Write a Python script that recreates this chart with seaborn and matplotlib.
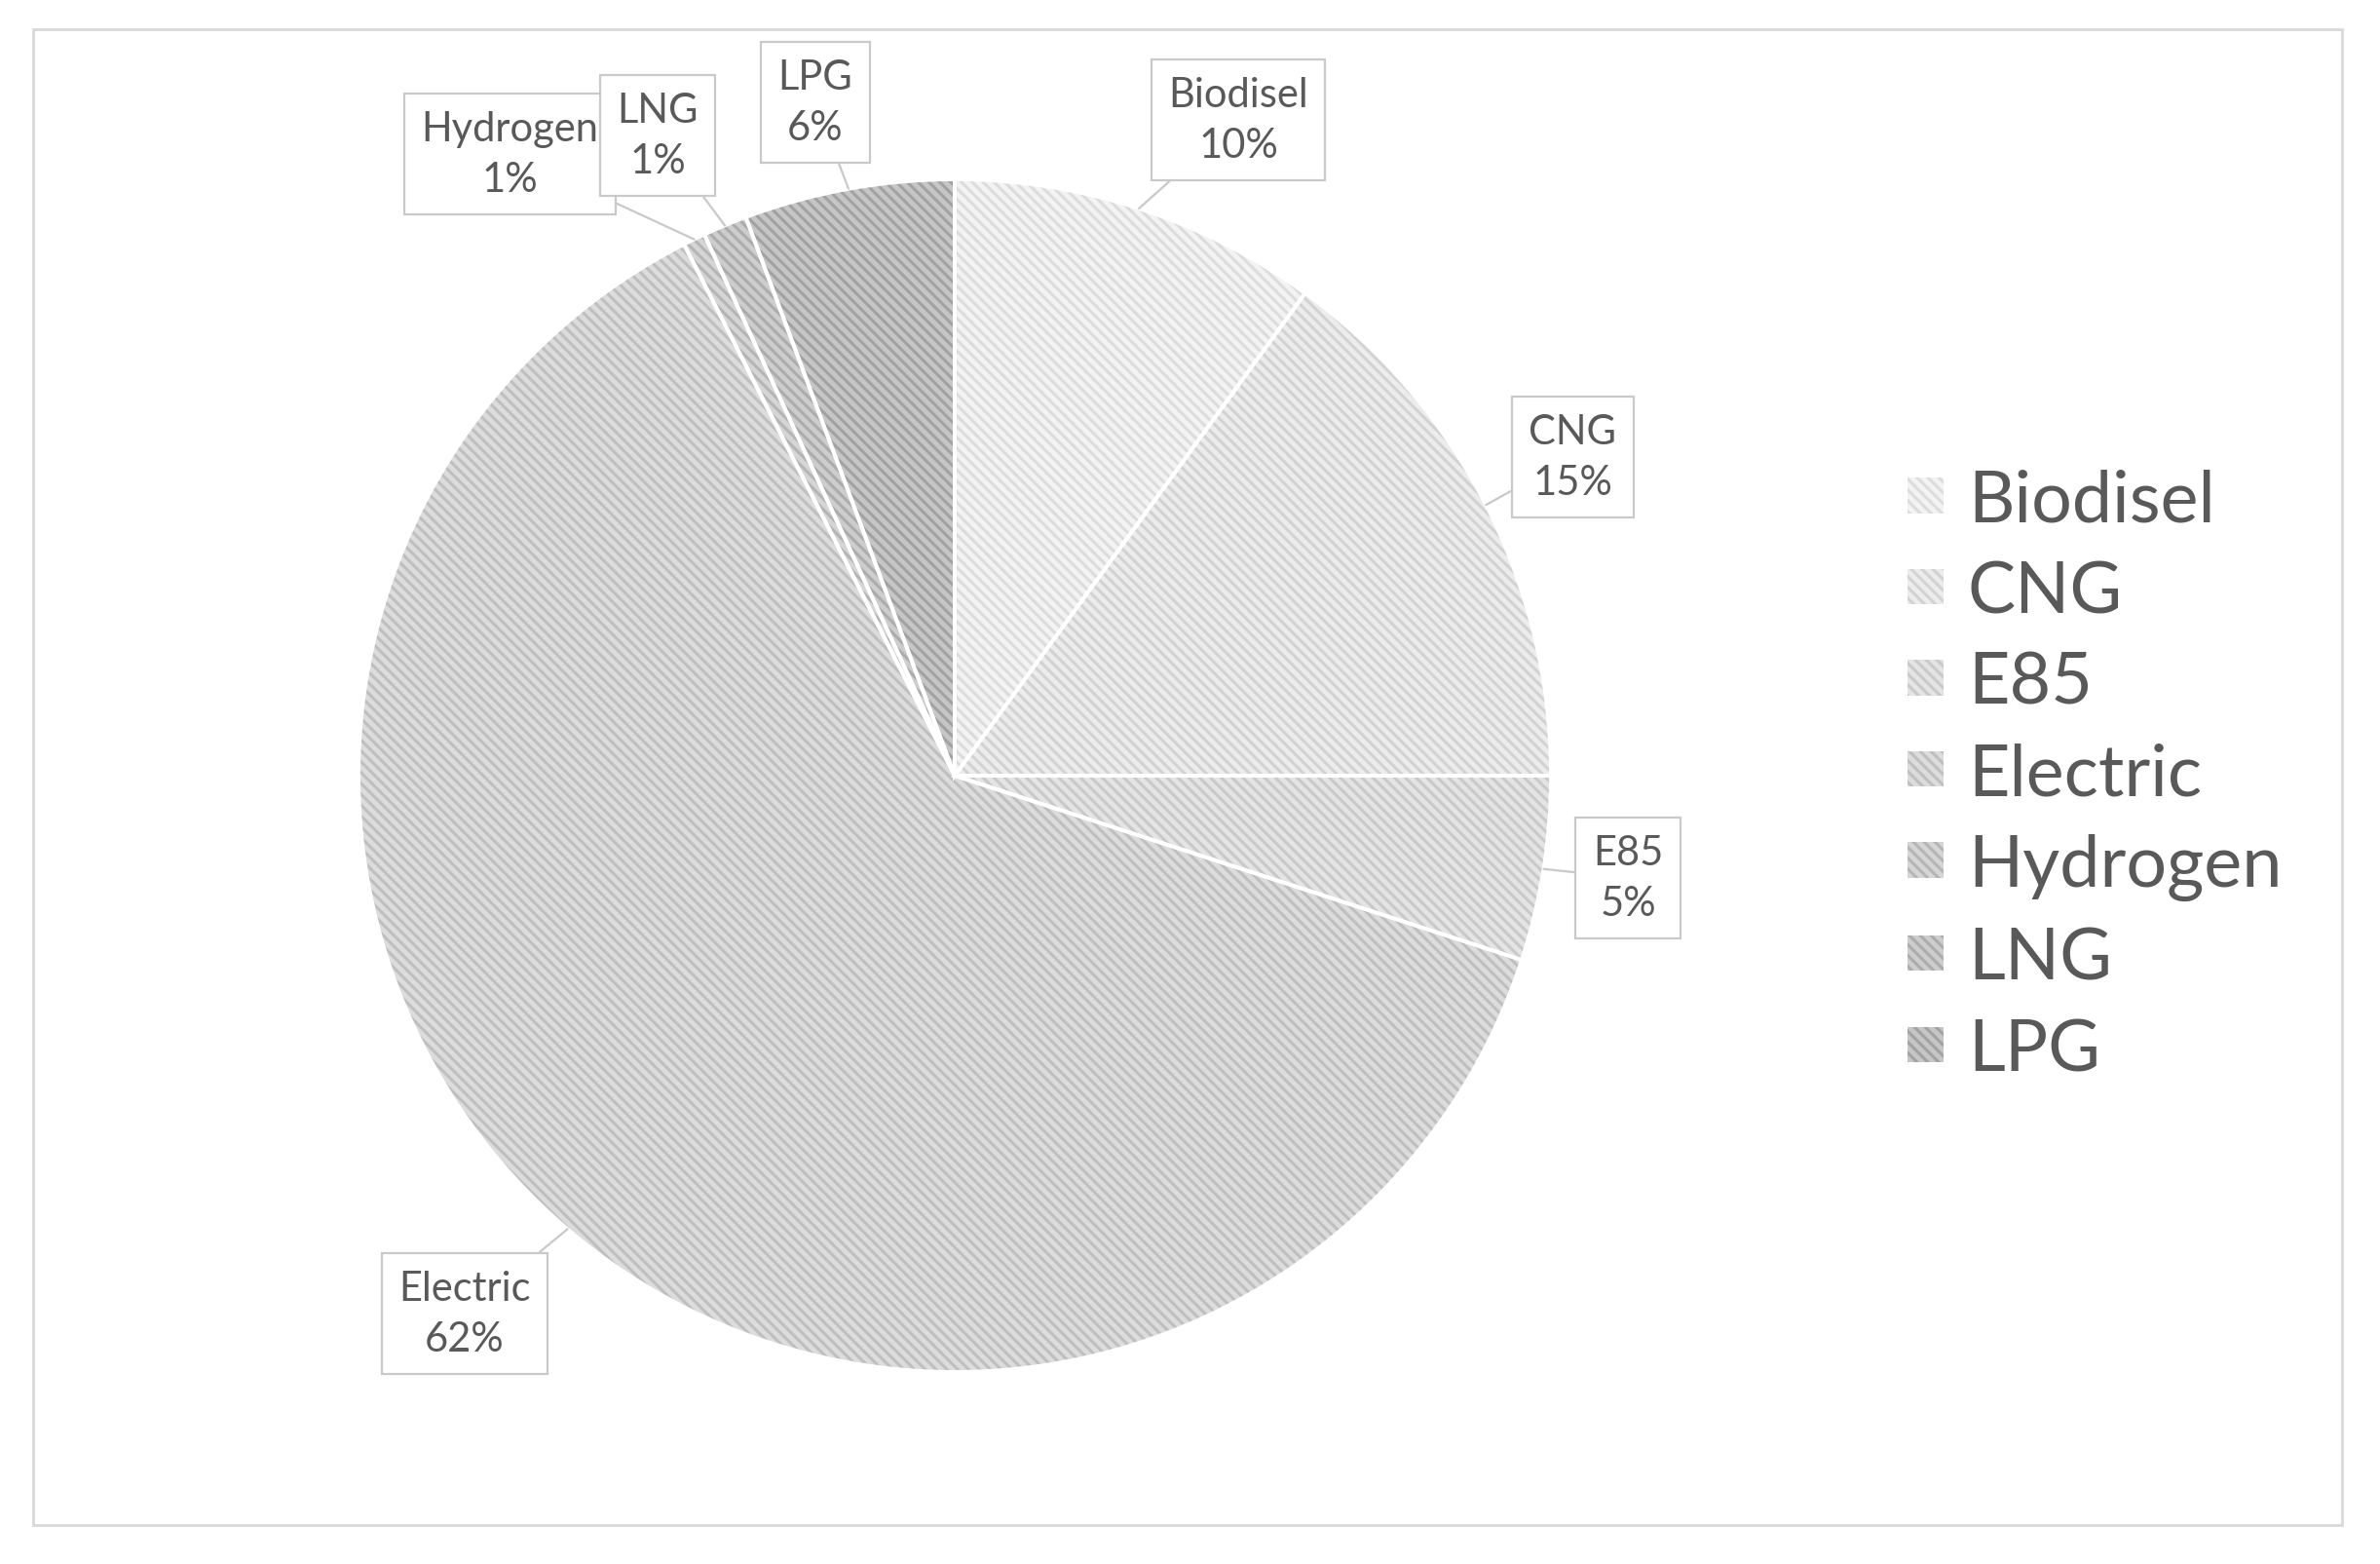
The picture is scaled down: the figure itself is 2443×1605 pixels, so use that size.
import numpy as np
import matplotlib
matplotlib.use("Agg")
import matplotlib.pyplot as plt
import seaborn as sns
from matplotlib.patches import Rectangle

# ---- data ----
categories = ["Biodisel", "CNG", "E85", "Electric", "Hydrogen", "LNG", "LPG"]
values = [10.0, 15.0, 5.0, 62.5, 0.6, 1.2, 5.7]
pct_labels = ["10%", "15%", "5%", "62%", "1%", "1%", "6%"]

sns.set_theme(style="white")
plt.rcParams["font.family"] = ["Lato", "DejaVu Sans"]
plt.rcParams["hatch.linewidth"] = 2.2

W, H = 2443, 1606
fig = plt.figure(figsize=(W / 100, H / 100), dpi=100)
fig.patch.set_facecolor("white")

# pie geometry (pixels)
cx, cy_top, R = 980, 797, 612
cy = H - cy_top
ax = fig.add_axes([0, 0, 1, 1])

face_cols = sns.blend_palette(["#f3f3f3", "#c6c6c6"], len(categories))
hatch_cols = sns.blend_palette(["#dcdcdc", "#a2a2a2"], len(categories))

wedges, _ = ax.pie(values, startangle=90, counterclock=False,
                   colors=face_cols,
                   wedgeprops=dict(linewidth=0.0, hatch="\\\\\\"))
for w, hc in zip(wedges, hatch_cols):
    w.set_edgecolor(hc)
    w.set_linewidth(0.0)
# white separators
wedges2, _ = ax.pie(values, startangle=90, counterclock=False,
                    wedgeprops=dict(fill=False, edgecolor="white", linewidth=2.8))

ax.set_xlim(-cx / R, (W - cx) / R)
ax.set_ylim(-cy / R, (H - cy) / R)
ax.set_aspect("auto")
ax.axis("off")

# label positions (figure pixels from bottom-left, box centres)
label_pos = {
    "Biodisel": (1271, H - 124),
    "CNG": (1614, H - 470),
    "E85": (1671, H - 902),
    "Electric": (477, H - 1349),
    "Hydrogen": (523, H - 159),
    "LNG": (675, H - 140),
    "LPG": (837, H - 106),
}
text_col = "#595959"
for w, cat, pl in zip(wedges, categories, pct_labels):
    mid = np.deg2rad((w.theta1 + w.theta2) / 2)
    xy = (np.cos(mid) * 1.0, np.sin(mid) * 1.0)
    ax.annotate(f"{cat}\n{pl}", xy=xy, xycoords="data",
                xytext=label_pos[cat], textcoords="figure pixels",
                ha="center", va="center", fontsize=30, color=text_col,
                linespacing=1.45,
                bbox=dict(boxstyle="square,pad=0.42", fc="white", ec="#c9c9c9", lw=1.6),
                arrowprops=dict(arrowstyle="-", color="#c9c9c9", lw=1.6,
                                shrinkA=0, shrinkB=0),
                zorder=5)

# legend
leg = fig.legend(wedges, categories, loc="center left",
                 bbox_to_anchor=(1958 / W, 1 - 797 / H),
                 frameon=False, fontsize=53, handlelength=0.5, handleheight=0.38,
                 handletextpad=0.34, labelspacing=0.36, borderpad=0, borderaxespad=0)
for t in leg.get_texts():
    t.set_color(text_col)

# outer border
fig.patches.append(Rectangle((34 / W, 40 / H), (2404 - 34) / W, (1575 - 40) / H,
                             transform=fig.transFigure, fill=False,
                             edgecolor="#d9d9d9", linewidth=2))

fig.savefig("out.png", dpi=100, facecolor="white")
